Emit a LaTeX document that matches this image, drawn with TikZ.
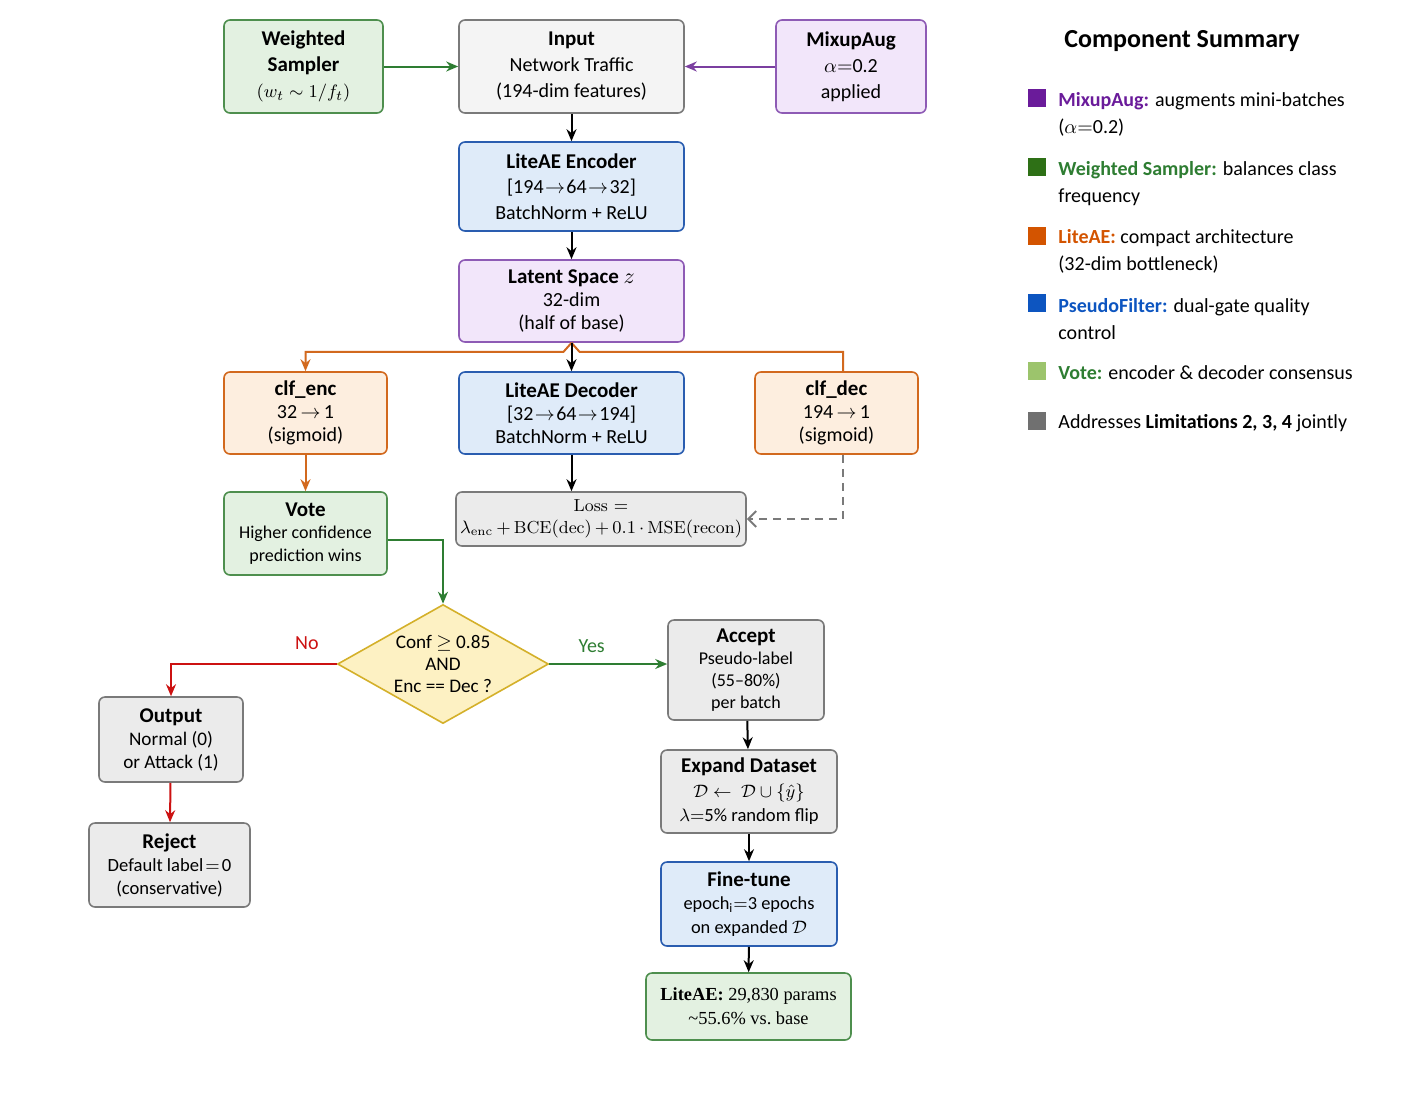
\documentclass[tikz,border=0pt]{standalone}
\usepackage{fontspec}
\setsansfont{Carlito}
\newfontfamily\timesfont{Liberation Serif}
\usetikzlibrary{arrows.meta,shapes.geometric}

\definecolor{gfill}{HTML}{E3F1E1}
\definecolor{gline}{HTML}{4E8F4E}
\definecolor{pfill}{HTML}{F2E6FA}
\definecolor{pline}{HTML}{8E5BB5}
\definecolor{bfill}{HTML}{DFEBF9}
\definecolor{bline}{HTML}{2A5DB0}
\definecolor{ofill}{HTML}{FDEEDF}
\definecolor{oline}{HTML}{D2691E}
\definecolor{yfill}{HTML}{FDF1C3}
\definecolor{yline}{HTML}{D4B02A}
\definecolor{kfill}{HTML}{EBEBEB}
\definecolor{kfilltop}{HTML}{F4F4F4}
\definecolor{kline}{HTML}{7A7A7A}
\definecolor{garrow}{HTML}{2E7D32}
\definecolor{parrow}{HTML}{7B3FA0}
\definecolor{rarrow}{HTML}{CC1111}
\definecolor{mixc}{HTML}{6A1B9A}
\definecolor{samc}{HTML}{2E7016}
\definecolor{litec}{HTML}{D35400}
\definecolor{pseuc}{HTML}{0D55C0}
\definecolor{votec}{HTML}{9CC46C}
\definecolor{addc}{HTML}{707070}

\newcommand{\boxtitle}[1]{{\fontsize{10.5}{12}\selectfont\bfseries #1}}
\newcommand{\tinyarr}{\kern0.7pt$\rightarrow$\kern0.7pt}

\tikzset{
  box/.style={draw, rounded corners=3pt, line width=0.8pt, align=center, inner sep=1pt,
    font=\sffamily\fontsize{10}{12}\selectfont},
  dims/.style 2 args={minimum width=#1*0.5pt, minimum height=#2*0.5pt},
  txt/.style 2 args={font=\sffamily\fontsize{#1}{#2}\selectfont},
  greenbox/.style={box, fill=gfill, draw=gline},
  purplebox/.style={box, fill=pfill, draw=pline},
  bluebox/.style={box, fill=bfill, draw=bline},
  orangebox/.style={box, fill=ofill, draw=oline},
  graybox/.style={box, fill=kfill, draw=kline},
  decision/.style={diamond, draw=yline, fill=yfill, line width=0.8pt, aspect=1.77,
    inner sep=0pt, align=center, font=\sffamily\fontsize{9.6}{11}\selectfont},
  arr/.style={-{Stealth[length=6pt, width=5pt]}, line width=1pt},
  legsq/.style={fill=#1, minimum size=9pt, inner sep=0pt},
  legtxt/.style={anchor=west, align=left, inner sep=0pt,
    font=\sffamily\fontsize{10}{13.5}\selectfont},
}

\begin{document}
\begin{tikzpicture}[x=0.5pt, y=-0.5pt]
  \useasboundingbox (0,0) rectangle (1411,1114);

  % top row
  \node[greenbox, txt={10}{13}, dims={159}{93}] (ws) at (303.5,66.5)
    {\boxtitle{Weighted}\\\boxtitle{Sampler}\\{\fontsize{9.4}{13}\selectfont$(w_t \sim 1/f_t)$}};
  \node[graybox, txt={10}{13}, fill=kfilltop, dims={225}{93}] (inp) at (571.5,66.5)
    {\boxtitle{Input}\\Network Traffic\\(194-dim features)};
  \node[purplebox, txt={10}{13}, dims={150}{93}] (mix) at (851,66.5)
    {\boxtitle{MixupAug}\\$\alpha{=}$0.2\\applied};

  % autoencoder
  \node[bluebox, txt={10}{12.75}, dims={225}{89}] (encb) at (571.5,186.5)
    {\boxtitle{LiteAE Encoder}\\{[}194\tinyarr64\tinyarr32]\\BatchNorm + ReLU};
  \node[purplebox, txt={10}{11.5}, dims={225}{82}] (lat) at (571.5,301)
    {\boxtitle{Latent Space $z$}\\32-dim\\(half of base)};
  \node[orangebox, txt={10}{11.5}, dims={163}{82}] (cenc) at (305.5,413)
    {\boxtitle{clf\_enc}\\32\,$\rightarrow$\,1\\(sigmoid)};
  \node[bluebox, txt={10}{11.5}, dims={225}{82}] (decb) at (571.5,413)
    {\boxtitle{LiteAE Decoder}\\{[}32\tinyarr64\tinyarr194]\\BatchNorm + ReLU};
  \node[orangebox, txt={10}{11.5}, dims={163}{82}] (cdec) at (836.5,413)
    {\boxtitle{clf\_dec}\\194\,$\rightarrow$\,1\\(sigmoid)};
  \node[greenbox, txt={9}{11.25}, dims={163}{83}] (vote) at (305.5,533.5)
    {\boxtitle{Vote}\\Higher confidence\\prediction wins};
  \node[graybox, font=\rmfamily\fontsize{8.7}{11}\selectfont, dims={290}{54}] (loss) at (601,519)
    {Loss $=$\\$\medmuskip=3mu\lambda_{\mathrm{enc}} + \mathrm{BCE(dec)} + 0.1\cdot\mathrm{MSE(recon)}$};

  % decision
  \node[decision, minimum width=105.5pt, minimum height=59.5pt] (dia) at (443,664)
    {Conf $\geq$ 0.85\\AND\\Enc == Dec ?};
  \node[graybox, txt={9.6}{11.5}, dims={144}{85}] (out) at (171,739.5)
    {\boxtitle{Output}\\Normal (0)\\or Attack (1)};
  \node[graybox, txt={9.3}{11.5}, dims={161}{84}] (rej) at (169.5,865)
    {\boxtitle{Reject}\\Default label\kern1pt$=$\kern1pt0\\(conservative)};
  \node[graybox, txt={9}{11}, dims={156}{100}] (acc) at (746,670)
    {\boxtitle{Accept}\\Pseudo-label\\(55--80\%)\\per batch};
  \node[graybox, txt={9.3}{12.2}, dims={176}{83}] (expd) at (749,791.5)
    {\boxtitle{Expand Dataset}\\$\mathcal{D} \leftarrow\ \mathcal{D} \cup \{\hat{y}\}$\\$\lambda{=}$5\% random flip};
  \node[bluebox, txt={9.2}{11.75}, dims={176}{84}] (fine) at (749,904)
    {\boxtitle{Fine-tune}\\epoch\textsubscript{i}$=$3 epochs\\on expanded $\mathcal{D}$};
  \node[greenbox, font=\timesfont\fontsize{9.2}{12}\selectfont, dims={205}{67}] (lite) at (748.5,1006.5)
    {\textbf{LiteAE:} 29,830 params\\\textasciitilde55.6\% vs.\ base};

  % connectors
  \draw[arr, garrow] (ws) -- (inp);
  \draw[arr, parrow] (mix) -- (inp);
  \draw[arr] (inp) -- (encb);
  \draw[arr] (encb) -- (lat);
  \draw[arr, oline] (lat.south) -- ++(-8,9) -| (cenc.north);
  \draw[oline, line width=1pt] (lat.south) -- ++(8,9) -| ([xshift=3.25pt]cdec.north);
  \draw[arr] (lat) -- (decb);
  \draw[arr, oline] (cenc) -- (vote);
  \draw[arr] (decb.south) -- (decb.south |- loss.north);
  \draw[kline, line width=1pt, dash pattern=on 4pt off 3pt, -{Straight Barb[length=4pt, width=8pt]}]
    ([xshift=3.25pt]cdec.south) |- (loss.east);
  \draw[arr, garrow] ([yshift=-3pt]vote.east) -| (dia.north);
  \draw[arr, rarrow] (dia.west) -| (out.north)
    node[pos=0.09, above=3.5pt, text=rarrow, txt={10}{12}] {No};
  \draw[arr, rarrow] (out) -- (rej);
  \draw[arr, garrow] (dia.east) -- (dia.east -| acc.west)
    node[pos=0.36, above=2pt, text=garrow, txt={10}{12}] {Yes};
  \draw[arr] (acc) -- (expd);
  \draw[arr] (expd) -- (fine);
  \draw[arr] (fine) -- (lite);

  % component summary
  \node[font=\sffamily\bfseries\fontsize{13}{15}\selectfont] (sumtitle) at (1182,41) {Component Summary};
  \node[legsq=mixc] (sqmix) at (1037,98) {};
  \node[legtxt] (txmix) at (1058,114.5)
    {\textcolor{mixc}{\textbf{MixupAug:}} augments mini-batches\\($\alpha{=}$0.2)};
  \node[legsq=samc] (sqsam) at (1037,167) {};
  \node[legtxt] (txsam) at (1058,183.5)
    {\textcolor{garrow}{\textbf{Weighted Sampler:}} balances class\\frequency};
  \node[legsq=litec] (sqlite) at (1037,236) {};
  \node[legtxt] (txlite) at (1058,251.5)
    {\textcolor{litec}{\textbf{LiteAE:}} compact architecture\\(32-dim bottleneck)};
  \node[legsq=pseuc] (sqpseu) at (1037,303) {};
  \node[legtxt] (txpseu) at (1058,319.5)
    {\textcolor{pseuc}{\textbf{PseudoFilter:}} dual-gate quality\\control};
  \node[legsq=votec] (sqvote) at (1037,371) {};
  \node[legtxt] (txvote) at (1058,373)
    {\textcolor{garrow}{\textbf{Vote:}} encoder \& decoder consensus};
  \node[legsq=addc] (sqadd) at (1037,421) {};
  \node[legtxt] (txadd) at (1058,423)
    {Addresses \textbf{Limitations 2, 3, 4} jointly};
\end{tikzpicture}
\end{document}
